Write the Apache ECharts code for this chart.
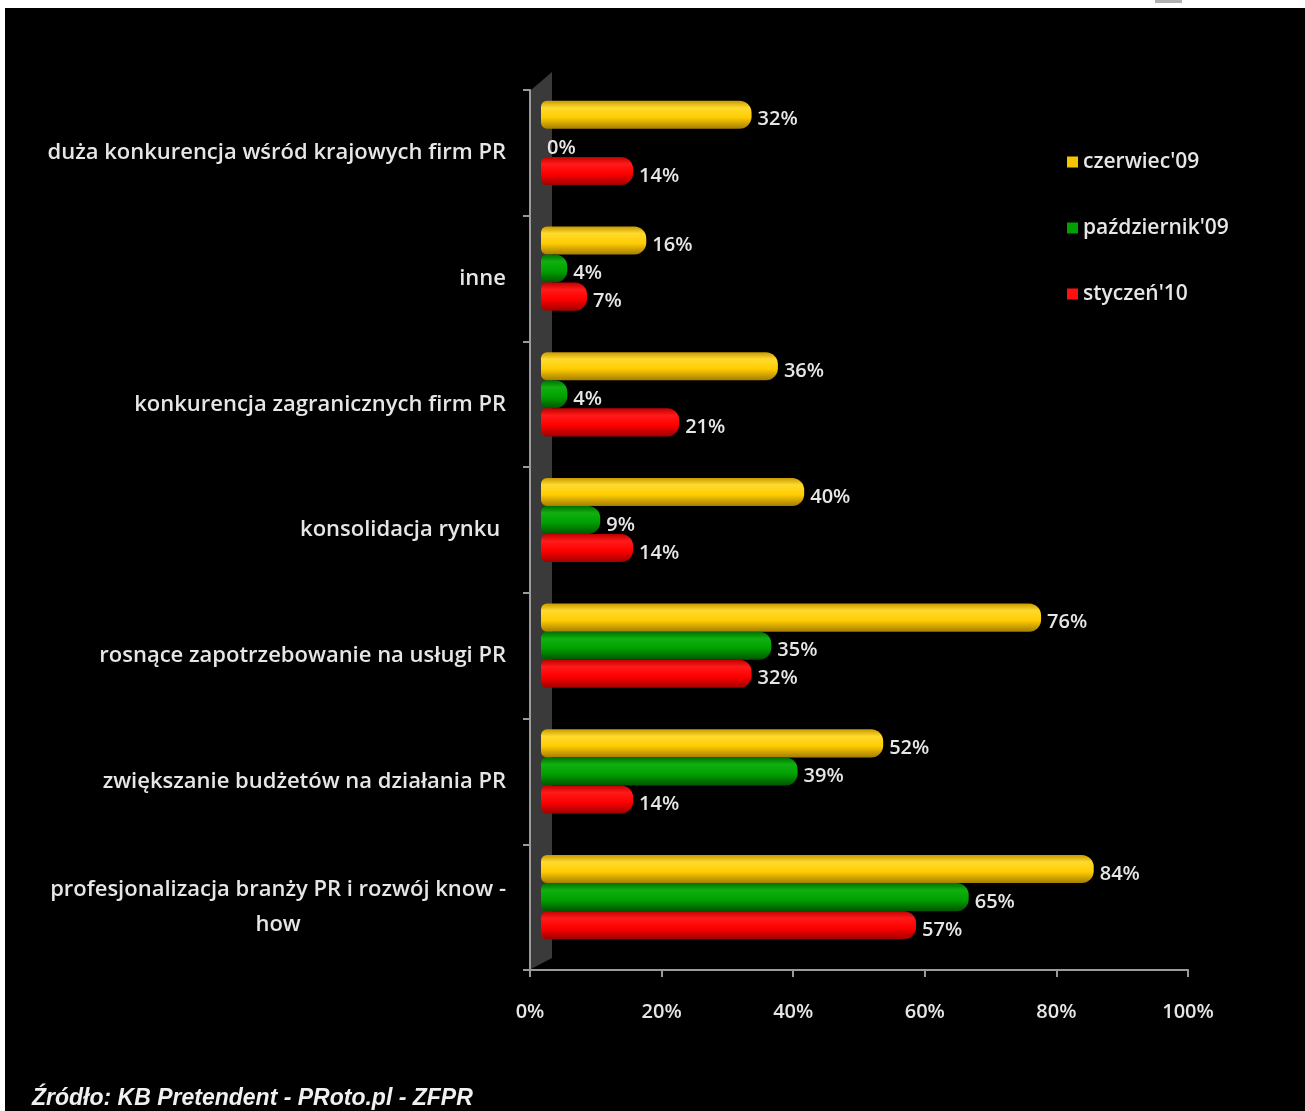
<!DOCTYPE html>
<html>
<head>
<meta charset="utf-8">
<script src="https://cdn.jsdelivr.net/npm/echarts@6/dist/echarts.min.js"></script>
<style>
  html, body { margin: 0; padding: 0; background: #fff; }
  #chart { width: 1305px; height: 1111px; }
</style>
</head>
<body>
<div id="chart"></div>
<script>
// kategorie od góry do dołu
const categories = [
  'duża konkurencja wśród krajowych firm PR',
  'inne',
  'konkurencja zagranicznych firm PR',
  'konsolidacja rynku ',
  'rosnące zapotrzebowanie na usługi PR',
  'zwiększanie budżetów na działania PR',
  'profesjonalizacja branży PR i rozwój know -\nhow'
]
const seriesNames = ["czerwiec'09", "październik'09", "styczeń'10"]
const czerwiec09 = [32, 16, 36, 40, 76, 52, 84]
const pazdziernik09 = [0, 4, 4, 9, 35, 39, 65]
const styczen10 = [14, 7, 21, 14, 32, 14, 57]
const xTicks = [0, 20, 40, 60, 80, 100]

const font = '"Open Sans", "Noto Sans", sans-serif'

// gradient "walca" jak w wykresie 3D z Excela
const tube = (edge, mid, light, dark) => new echarts.graphic.LinearGradient(0, 0, 0, 1, [
  { offset: 0, color: edge },
  { offset: 0.25, color: light },
  { offset: 0.6, color: mid },
  { offset: 1, color: dark }
])
const colors = [
  { fill: tube('#c99a00', '#ffcc00', '#ffda2e', '#a57e00'), legend: '#f5c400' },
  { fill: tube('#007000', '#00a000', '#10b010', '#005500'), legend: '#00a000' },
  { fill: tube('#c00000', '#ff0000', '#ff1a1a', '#a00000'), legend: '#ff1010' }
]

const chart = echarts.init(document.getElementById('chart'))

const makeSeries = (name, data, i) => ({
  name: name,
  type: 'bar',
  xAxisIndex: 0,
  yAxisIndex: 0,
  data: data,
  barGap: '0%',
  barCategoryGap: '33%',
  itemStyle: {
    color: colors[i].fill,
    borderRadius: [6, 12, 12, 6]
  },
  label: {
    show: true,
    position: 'right',
    distance: 6,
    offset: [0, 5],
    formatter: '{c}%',
    color: '#e6e6e6',
    fontFamily: font,
    fontWeight: 600,
    fontSize: 20
  },
  emphasis: { disabled: true },
  z: 3
})

const labelStyle = { color: '#e6e6e6', fontSize: 22, fontWeight: 600, fontFamily: font, lineHeight: 35 }

const option = {
  backgroundColor: '#000',
  animation: false,
  textStyle: { fontFamily: font },
  legend: {
    orient: 'vertical',
    left: 1062,
    top: 143,
    itemGap: 38,
    itemWidth: 11,
    itemHeight: 11,
    icon: 'rect',
    textStyle: { color: '#e6e6e6', fontSize: 21, fontWeight: 600, fontFamily: font, lineHeight: 28 },
    data: seriesNames.map((n, i) => ({ name: n, itemStyle: { color: colors[i].legend } }))
  },
  grid: [
    // słupki (przesunięte jak w rzucie 3D)
    { left: 541, right: 106, top: 80, bottom: 151 },
    // osie
    { left: 530, right: 117, top: 90, bottom: 141 }
  ],
  xAxis: [
    { gridIndex: 0, type: 'value', min: 0, max: 100, interval: 20, show: false },
    {
      gridIndex: 1,
      type: 'value',
      min: xTicks[0],
      max: xTicks[xTicks.length - 1],
      interval: 20,
      axisLine: { show: true, lineStyle: { color: '#9a9a9a', width: 2 } },
      axisTick: { show: true, length: 7, lineStyle: { color: '#9a9a9a', width: 2 } },
      splitLine: { show: false },
      axisLabel: {
        formatter: '{value}%',
        color: '#e6e6e6',
        fontSize: 20,
        fontWeight: 600,
        margin: 32,
        fontFamily: font
      }
    }
  ],
  yAxis: [
    { gridIndex: 0, type: 'category', data: categories, inverse: true, show: false },
    {
      gridIndex: 1,
      type: 'category',
      data: categories,
      inverse: true,
      axisLine: { show: true, lineStyle: { color: '#9a9a9a', width: 2 } },
      axisTick: { show: true, length: 7, alignWithLabel: false, lineStyle: { color: '#9a9a9a', width: 2 } },
      axisLabel: {
        ...labelStyle,
        margin: 24,
        align: 'right',
        // wiersze etykiety dwuwierszowej wyśrodkowane względem siebie
        formatter: v => v.split('\n').map(s => '{c|' + s + '}').join('\n'),
        rich: {
          c: { ...labelStyle, align: 'center' }
        }
      }
    }
  ],
  graphic: [
    // biała ramka zrzutu ekranu
    { type: 'rect', shape: { x: 0, y: 0, width: 1305, height: 8 }, style: { fill: '#fff' }, z: 10 },
    { type: 'rect', shape: { x: 0, y: 0, width: 5, height: 1111 }, style: { fill: '#fff' }, z: 10 },
    { type: 'rect', shape: { x: 1155, y: 0, width: 27, height: 3 }, style: { fill: '#b0b0b0' }, z: 11 },
    // ściana tylna 3D
    {
      type: 'polygon',
      shape: { points: [[531, 90], [552, 72], [552, 958], [531, 969]] },
      style: { fill: '#3a3a3a' },
      z: 0
    },
    {
      type: 'text',
      left: 32,
      top: 1087,
      style: {
        text: 'Źródło: KB Pretendent - PRoto.pl - ZFPR',
        fill: '#f0f0f0',
        font: 'italic bold 23px "Liberation Sans", Arial, sans-serif'
      },
      z: 10
    }
  ],
  series: [
    makeSeries(seriesNames[0], czerwiec09, 0),
    makeSeries(seriesNames[1], pazdziernik09, 1),
    makeSeries(seriesNames[2], styczen10, 2)
  ]
}

chart.setOption(option)
</script>
</body>
</html>
